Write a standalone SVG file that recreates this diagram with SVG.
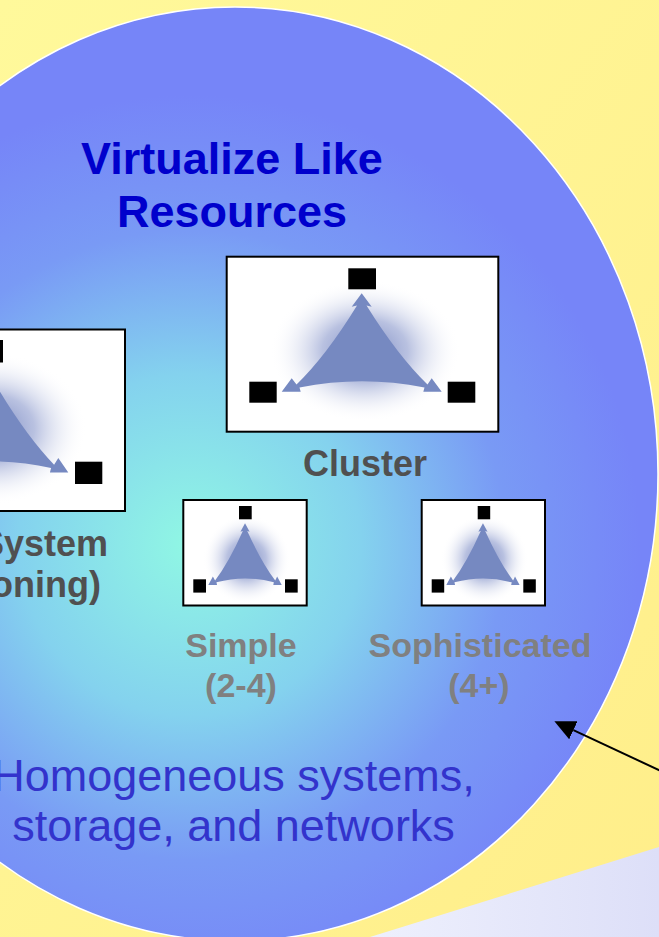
<svg xmlns="http://www.w3.org/2000/svg" xmlns:xlink="http://www.w3.org/1999/xlink" width="659" height="937" viewBox="0 0 659 937">
  <defs>
    <linearGradient id="bgYellow" x1="0" y1="0" x2="1" y2="1">
      <stop offset="0" stop-color="#fff99b"/>
      <stop offset="1" stop-color="#ffee8a"/>
    </linearGradient>
    <radialGradient id="poolFill" gradientUnits="userSpaceOnUse" cx="190" cy="545" r="450">
      <stop offset="0" stop-color="#90f7e4"/>
      <stop offset="0.38" stop-color="#84d2ee"/>
      <stop offset="0.7" stop-color="#799af5"/>
      <stop offset="1" stop-color="#7685f8"/>
    </radialGradient>
    <linearGradient id="lavender" x1="0" y1="0" x2="1" y2="0">
      <stop offset="0" stop-color="#eef0fd"/>
      <stop offset="1" stop-color="#dddff8"/>
    </linearGradient>
    <radialGradient id="haze" cx="0.5" cy="0.5" r="0.5">
      <stop offset="0" stop-color="#6f80bd" stop-opacity="0.95"/>
      <stop offset="0.45" stop-color="#8a98cc" stop-opacity="0.6"/>
      <stop offset="1" stop-color="#ffffff" stop-opacity="0"/>
    </radialGradient>
    <marker id="head" markerUnits="userSpaceOnUse" viewBox="0 -10 21 20" markerWidth="21" markerHeight="20" refX="0" refY="0" orient="auto">
      <path d="M0,-10 L21,0 L0,10 Z" fill="#000"/>
    </marker>
    <!-- three-way curved arrow with its soft shadow, drawn at the Cluster size -->
    <g id="tri">
      <ellipse cx="365" cy="351" rx="95" ry="71" fill="url(#haze)"/>
      <path class="tri" d="M361.7 293.3 L371.7 306.7 L366.5 305.5 Q398 356 427.5 384.5 L431.7 378.3 L441.7 391.7 L423.3 391.7 L424.5 387.5 Q362 375 299.5 387.5 L300.7 391.7 L281.7 391.7 L291.7 378.3 L296.5 384.5 Q326 356 357 305.5 L351.7 306.7 Z"/>
    </g>
  </defs>
  <style>
    .box { fill: #ffffff; stroke: #000000; stroke-width: 2; }
    .sq { fill: #000000; }
    .tri { fill: #7689c1; }
    .title { font-family: "Liberation Sans", Arial, sans-serif; font-weight: bold; font-size: 45px; fill: #0000cc; text-anchor: middle; }
    .dark { font-family: "Liberation Sans", Arial, sans-serif; font-weight: bold; font-size: 36px; fill: #505050; }
    .light { font-family: "Liberation Sans", Arial, sans-serif; font-weight: bold; font-size: 34px; fill: #808080; text-anchor: middle; }
    .body { font-family: "Liberation Sans", Arial, sans-serif; font-size: 45px; fill: #3333cc; text-anchor: middle; }
  </style>

  <!-- background -->
  <rect x="0" y="0" width="659" height="937" fill="url(#bgYellow)"/>
  <ellipse id="pool" cx="235" cy="474" rx="423" ry="467" fill="url(#poolFill)" stroke="#ffffff" stroke-width="1.5"/>
  <polygon points="370,937 659,847 659,937" fill="url(#lavender)"/>

  <!-- heading -->
  <g id="heading">
    <text class="title" x="232" y="174">Virtualize Like</text>
    <text class="title" x="232" y="227">Resources</text>
  </g>

  <!-- single system node, running off the left edge -->
  <g id="system">
    <rect class="box" x="-10" y="329.5" width="135" height="181.5"/>
    <use xlink:href="#tri" href="#tri" transform="matrix(1 0 0 1.07 -373.4 53.3)"/>
    <rect class="sq" x="-25" y="340" width="28" height="22.5"/>
    <rect class="sq" x="75" y="461.7" width="27.3" height="22.3"/>
    <text class="dark" x="108" y="556" text-anchor="end">System</text>
    <text class="dark" x="101" y="597" text-anchor="end">oning)</text>
  </g>

  <!-- cluster node -->
  <g id="cluster">
    <rect class="box" x="226.7" y="256.7" width="271.6" height="175"/>
    <use xlink:href="#tri" href="#tri"/>
    <rect class="sq" x="348.3" y="268.3" width="27.7" height="21"/>
    <rect class="sq" x="249.3" y="381.7" width="27.4" height="21"/>
    <rect class="sq" x="447.7" y="381.7" width="27.6" height="21"/>
    <text class="dark" x="365" y="476" text-anchor="middle">Cluster</text>
  </g>

  <!-- simple node -->
  <g id="simple">
    <rect class="box" x="183.3" y="500" width="123.4" height="105.5"/>
    <use xlink:href="#tri" href="#tri" transform="matrix(0.459 0 0 0.627 79 339.4)"/>
    <rect class="sq" x="239" y="506" width="12.7" height="13.3"/>
    <rect class="sq" x="193.3" y="579.3" width="12.7" height="13.3"/>
    <rect class="sq" x="285" y="579.3" width="12.7" height="13.3"/>
    <text class="light" x="241" y="657">Simple</text>
    <text class="light" x="241" y="697">(2-4)</text>
  </g>

  <!-- sophisticated node -->
  <g id="sophisticated">
    <rect class="box" x="421.7" y="500" width="123.3" height="105.5"/>
    <use xlink:href="#tri" href="#tri" transform="matrix(0.458 0 0 0.627 317.3 339.4)"/>
    <rect class="sq" x="477.7" y="506" width="12.5" height="13.3"/>
    <rect class="sq" x="431.7" y="579.3" width="12.5" height="13.3"/>
    <rect class="sq" x="523.3" y="579.3" width="12.5" height="13.3"/>
    <text class="light" x="480" y="657">Sophisticated</text>
    <text class="light" x="479" y="697">(4+)</text>
  </g>

  <!-- caption -->
  <g id="caption">
    <text class="body" x="233.5" y="791">Homogeneous systems,</text>
    <text class="body" x="233.5" y="841">storage, and networks</text>
  </g>

  <!-- connectors -->
  <g id="connectors">
    <line x1="662" y1="771.5" x2="573.4" y2="730.2" stroke="#000" stroke-width="2" marker-end="url(#head)"/>
  </g>
</svg>
